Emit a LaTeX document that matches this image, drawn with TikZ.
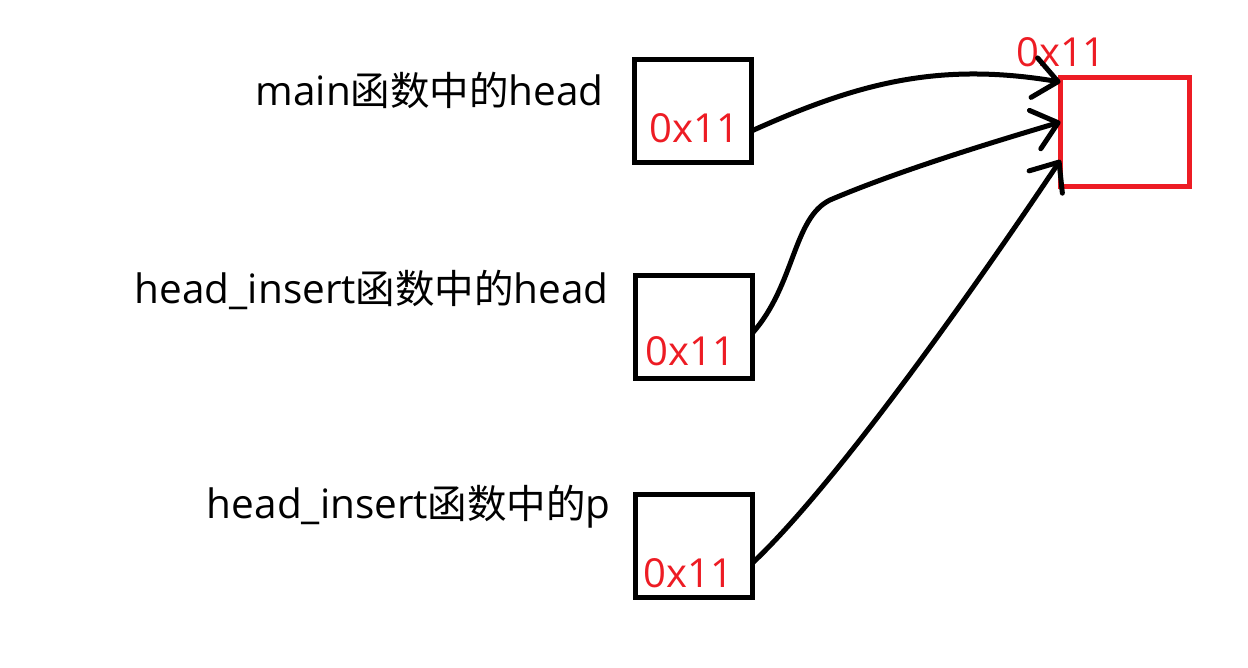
\documentclass[tikz,border=0pt]{standalone}
\usepackage{fontspec}
\setmainfont{Open Sans}
\newfontfamily\cjk{Noto Sans CJK SC}
\newcommand{\zhtext}[1]{{\cjk\fontsize{39.5}{44}\selectfont #1}}
\usetikzlibrary{arrows.meta}
\definecolor{memred}{HTML}{ED1C24}
\begin{document}
\begin{tikzpicture}[x=1pt,y=-1pt]


 \tikzset{
    cell/.style={
      draw,
      line width=5pt,
      minimum width=117pt,
      minimum height=103pt,
      inner sep=0pt,
      outer sep=0pt
    },
    lbl/.style={anchor=base east, inner sep=0pt, font=\fontsize{40.5}{44}\selectfont},
    val/.style={anchor=base west, inner sep=0pt, text=memred, font=\fontsize{40}{44}\selectfont},
    ptr/.style={line width=5pt, line cap=round, -{Straight Barb[round,length=24pt,width=40pt]}}
  }

\useasboundingbox (0,0) rectangle (1248,668);

\node[cell] (mainhead) at (693,111) {};
\node[cell] (inshead) at (694,327) {};
\node[cell] (insp) at (694,546) {};
\node[cell, draw=memred, minimum width=129pt, minimum height=109pt] (obj) at (1125,132) {};

\node[lbl] (mainlbl) at (604,106) {main\zhtext{函数中的}head};
\node[lbl] (insheadlbl) at (609,304) {head\_insert\zhtext{函数中的}head};
\node[lbl] (insplbl) at (611,518) {head\_insert\zhtext{函数中的}p};

\node[val] (mainval) at ([xshift=15pt,yshift=20pt]mainhead.south west) {0x11};
\node[val] (insheadval) at ([xshift=10pt,yshift=13pt]inshead.south west) {0x11};
\node[val] (inspval) at ([xshift=8pt,yshift=10pt]insp.south west) {0x11};
\node[val] (objval) at (1016,67) {0x11};

\coordinate (bend) at (830,200);

\draw[ptr] ([yshift=-20pt]mainhead.east) .. controls (860,82) and (940,62) .. ([yshift=50pt]obj.west);
\draw[ptr] ([yshift=-6pt]inshead.east) .. controls (795,285) and (793,218) .. (bend)
  .. controls (900,170) and (1000,140) .. ([yshift=10pt]obj.west);
\draw[ptr] ([yshift=-17pt]insp.east) .. controls (840,480) and (980,280) .. ([yshift=-28pt]obj.west);
\end{tikzpicture}
\end{document}
